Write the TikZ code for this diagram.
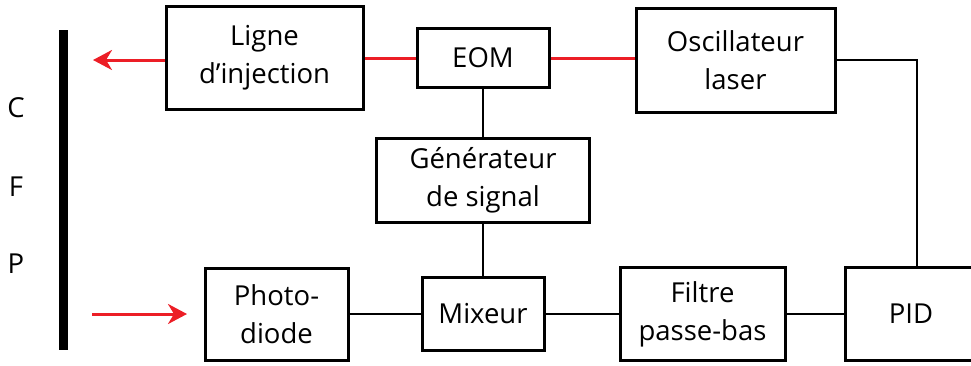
\documentclass[tikz,border=0pt]{standalone}
\usepackage{fontspec}
\setmainfont{Open Sans}
\usetikzlibrary{arrows.meta}
\definecolor{laserred}{RGB}{236,30,38}

\begin{document}
\begin{tikzpicture}[x=1pt,y=-1pt,
  blk/.style={draw,line width=3pt,align=center,inner sep=0pt,font=\fontsize{27.5}{38}\selectfont},
  link/.style={line width=2pt},
  beam/.style={laserred,line width=3pt},
  beamarrow/.style={beam,-{Stealth[length=19pt,width=20pt,inset=6pt]}}]
\useasboundingbox (0,0) rectangle (971,365);
\node[fill=black,inner sep=0pt,minimum width=9pt,minimum height=320pt] at (63.5,190) (cfp) {};
\node[font=\fontsize{27.5}{38}\selectfont] at (16,108) (c) {C};
\node[font=\fontsize{27.5}{38}\selectfont] at (16,187) (f) {F};
\node[font=\fontsize{27.5}{38}\selectfont] at (16,264) (p) {P};
\node[blk,minimum width=197pt,minimum height=103pt] at (264.5,58) (ligne) {Ligne\\d’injection};
\node[blk,minimum width=132pt,minimum height=59pt] at (483,58) (eom) {EOM};
\node[blk,minimum width=199pt,minimum height=104pt] at (735.5,60) (osc) {Oscillateur\\laser};
\node[blk,minimum width=213pt,minimum height=84pt] at (483,180) (gen) {Générateur\\de signal};
\node[blk,minimum width=143pt,minimum height=92pt] at (276.5,314) (photo) {Photo-\\diode};
\node[blk,minimum width=122pt,minimum height=73pt] at (483,314) (mix) {Mixeur};
\node[blk,minimum width=165pt,minimum height=93pt] at (702.5,314) (filtre) {Filtre\\passe-bas};
\node[blk,minimum width=132pt,minimum height=93pt] at (911,314) (pid) {PID};
\coordinate (outtip) at (93,60);
\coordinate (intail) at (92,314);
\coordinate (intip) at (187,314);
\draw[beamarrow] (ligne.west |- outtip) -- (outtip);
\draw[beamarrow] (intail) -- (intip);
\draw[beam] (ligne.east) -- (eom.west);
\draw[beam] (eom.east) -- (osc.west |- eom.east);
\draw[link] (eom.south) -- (gen.north);
\draw[link] (gen.south) -- (mix.north);
\draw[link] (photo.east) -- (mix.west);
\draw[link] (mix.east) -- (filtre.west);
\draw[link] (filtre.east) -- (pid.west);
\draw[link] (osc.east) -| ([xshift=6pt]pid.north);
\end{tikzpicture}
\end{document}
